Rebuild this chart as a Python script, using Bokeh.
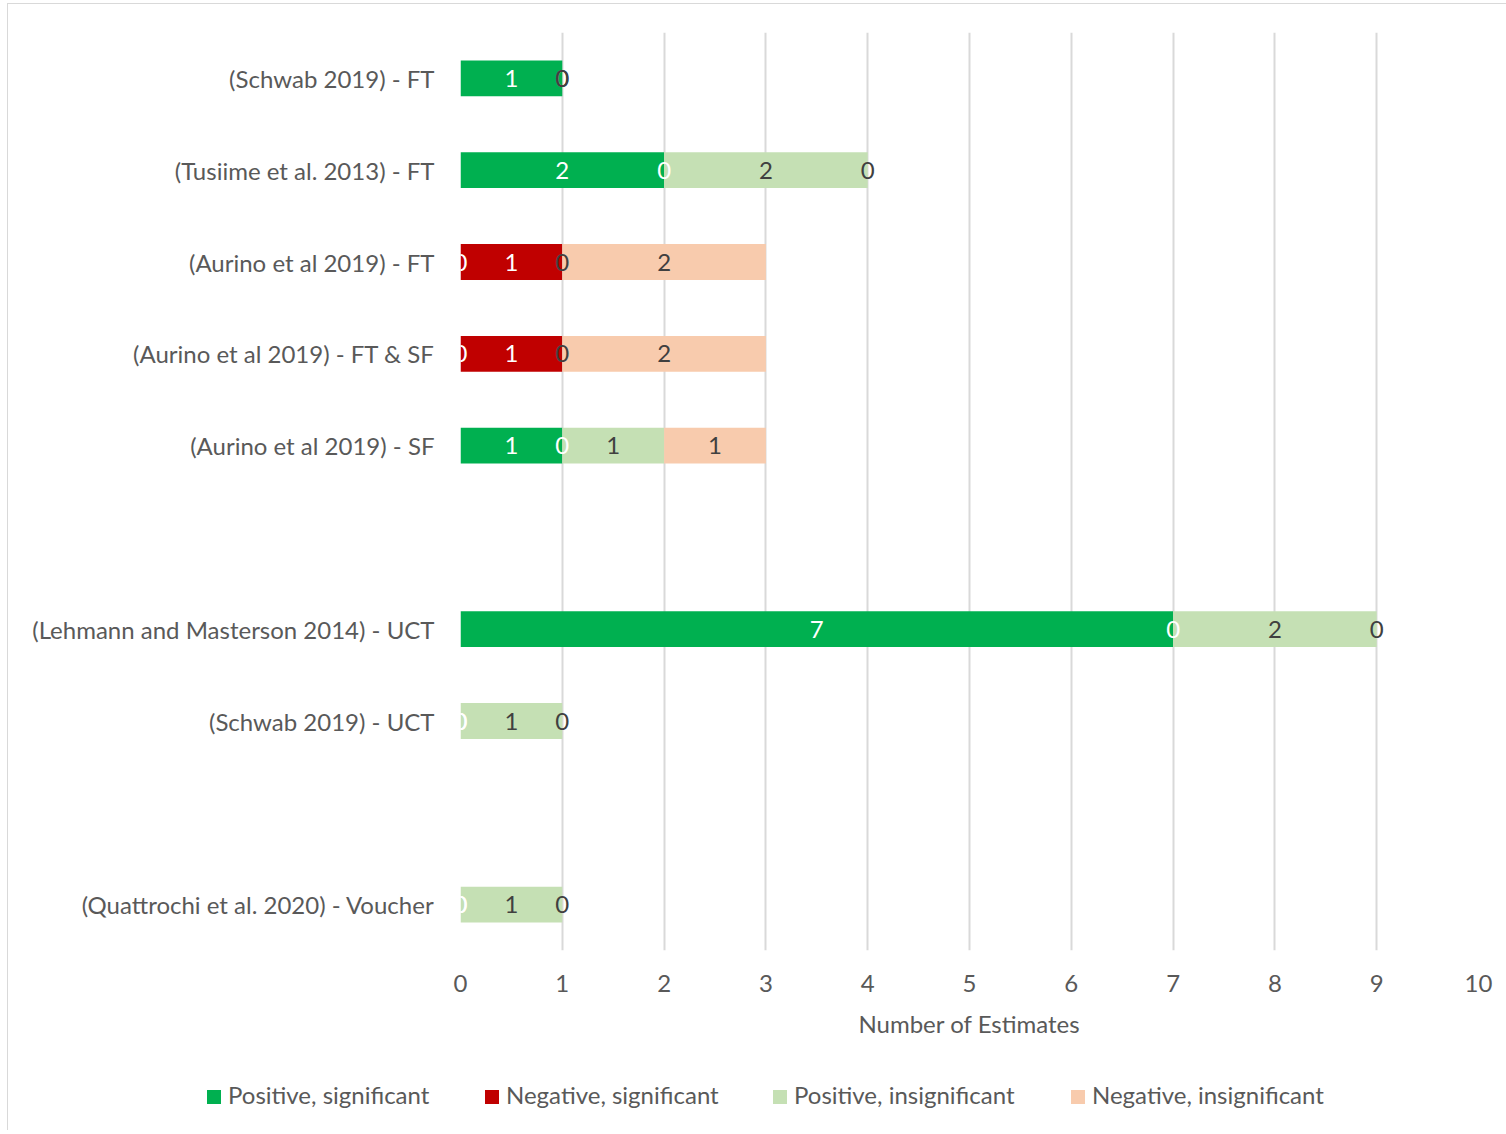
from bokeh.plotting import figure
from bokeh.layouts import column
from bokeh.models import ColumnDataSource, FactorRange, FixedTicker, Range1d, Div
from bokeh.core.properties import value
from bokeh.embed import file_html
from bokeh.resources import INLINE

# ---- data ----
categories = [
    "(Schwab 2019) - FT",
    "(Tusiime et al. 2013) - FT",
    "(Aurino et al 2019) - FT",
    "(Aurino et al 2019) - FT & SF",
    "(Aurino et al 2019) - SF",
    "(Lehmann and Masterson 2014) - UCT",
    "(Schwab 2019) - UCT",
    "(Quattrochi et al. 2020) - Voucher",
]
# axis order, top to bottom (blank rows separate the groups)
axis_factors = [
    "(Schwab 2019) - FT",
    "(Tusiime et al. 2013) - FT",
    "(Aurino et al 2019) - FT",
    "(Aurino et al 2019) - FT & SF",
    "(Aurino et al 2019) - SF",
    " ",
    "(Lehmann and Masterson 2014) - UCT",
    "(Schwab 2019) - UCT",
    "  ",
    "(Quattrochi et al. 2020) - Voucher",
]
series_names = ["Positive, significant", "Negative, significant",
                "Positive, insignificant", "Negative, insignificant"]
pos_sig = [1, 2, 0, 0, 1, 7, 0, 0]
neg_sig = [0, 0, 1, 1, 0, 0, 0, 0]
pos_insig = [0, 2, 0, 0, 1, 2, 1, 1]
neg_insig = [0, 0, 2, 2, 1, 0, 0, 0]
series_values = [pos_sig, neg_sig, pos_insig, neg_insig]
x_ticks = [0, 1, 2, 3, 4, 5, 6, 7, 8, 9, 10]

# ---- styles ----
colors = ["#00B050", "#C00000", "#C5E0B4", "#F8CBAD"]
label_colors = ["#FFFFFF", "#FFFFFF", "#404040", "#404040"]
FONT = "Lato"
FS = "24px"
GREY = "#595959"
legend_left = [199, 477, 765, 1063]   # px positions of legend items in the strip

p = figure(width=1498, height=1046,
           y_range=FactorRange(factors=list(reversed(axis_factors))),
           x_range=Range1d(0, 10),
           output_backend="svg", toolbar_location=None,
           min_border_left=452, min_border_right=28,
           min_border_top=28, min_border_bottom=100)
p.outline_line_color = None
p.background_fill_color = "white"
p.border_fill_color = "white"

cum = [0] * len(categories)
series = []
for name, vals, col, lcol in zip(series_names, series_values, colors, label_colors):
    left = cum[:]
    right = [a + b for a, b in zip(cum, vals)]
    src = ColumnDataSource(dict(y=categories, left=left, right=right,
                                mid=[(a + b) / 2 for a, b in zip(left, right)],
                                txt=[str(v) for v in vals]))
    p.hbar(y="y", left="left", right="right", height=0.39, source=src,
           fill_color=col, line_color=None)
    series.append((src, lcol))
    cum = right

# data labels drawn after all bars (series order)
for src, lcol in series:
    p.text(x="mid", y="y", text="txt", source=src, text_align="center",
           text_baseline="middle", text_color=lcol,
           text_font=value(FONT), text_font_size=FS)

# axes
p.xaxis.ticker = FixedTicker(ticks=x_ticks)
p.xgrid.ticker = FixedTicker(ticks=x_ticks)
p.xgrid.grid_line_color = "#D9D9D9"
p.xgrid.grid_line_width = 2
p.ygrid.grid_line_color = None

for ax in (p.xaxis[0], p.yaxis[0]):
    ax.axis_line_color = None
    ax.major_tick_line_color = None
    ax.minor_tick_line_color = None
    ax.major_label_text_font = FONT
    ax.major_label_text_font_size = FS
    ax.major_label_text_color = GREY

p.xaxis.major_label_standoff = 18
p.yaxis.major_label_standoff = 20
p.xaxis.axis_label = "Number of Estimates"
p.xaxis.axis_label_text_font = FONT
p.xaxis.axis_label_text_font_size = FS
p.xaxis.axis_label_text_font_style = "normal"
p.xaxis.axis_label_text_color = GREY
p.xaxis.axis_label_standoff = 14

# ---- legend strip (HTML) ----
parts = []
for name, col, x in zip(series_names, colors, legend_left):
    parts.append(
        f'<div style="position:absolute;left:{x}px;top:40px;width:14px;height:14px;'
        f'background:{col};"></div>'
        f'<div style="position:absolute;left:{x + 21}px;top:33px;line-height:24px;'
        f'font-family:Lato;font-size:{FS};color:{GREY};white-space:nowrap;">{name}</div>'
    )
legend_div = Div(text='<div style="position:relative;width:1498px;height:80px;">'
                      + "".join(parts) + "</div>",
                 width=1498, height=80, margin=0)

layout = column(p, legend_div, spacing=0, margin=(3, 0, 0, 7),
                styles={"border-left": "1px solid #D9D9D9",
                        "border-top": "1px solid #D9D9D9"})
open("out.html", "w").write(file_html(layout, INLINE))
